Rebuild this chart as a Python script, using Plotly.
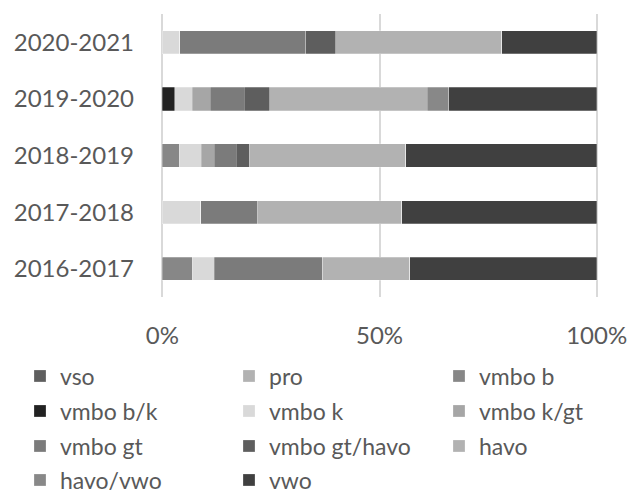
import plotly.graph_objects as go

years = ["2016-2017", "2017-2018", "2018-2019", "2019-2020", "2020-2021"]
series = ["vso", "pro", "vmbo b", "vmbo b/k", "vmbo k", "vmbo k/gt",
          "vmbo gt", "vmbo gt/havo", "havo", "havo/vwo", "vwo"]
colors = ["#5f5f5f", "#b2b2b2", "#878787", "#222222", "#d9d9d9", "#a6a6a6",
          "#7b7b7b", "#5e5e5e", "#b2b2b2", "#888888", "#404040"]

# shares (fraction), order of years as in `years`
vso = [0, 0, 0, 0, 0]
pro = [0, 0, 0, 0, 0]
vmbo_b = [0.069, 0, 0.039, 0, 0]
vmbo_bk = [0, 0, 0, 0.029, 0]
vmbo_k = [0.050, 0.089, 0.051, 0.040, 0.040]
vmbo_kgt = [0, 0, 0.030, 0.041, 0]
vmbo_gt = [0.250, 0.129, 0.050, 0.079, 0.290]
vmbo_gthavo = [0, 0, 0.030, 0.058, 0.069]
havo = [0.201, 0.333, 0.361, 0.362, 0.382]
havo_vwo = [0, 0, 0, 0.050, 0]
vwo = [0.430, 0.449, 0.440, 0.340, 0.219]

values = [vso, pro, vmbo_b, vmbo_bk, vmbo_k, vmbo_kgt,
          vmbo_gt, vmbo_gthavo, havo, havo_vwo, vwo]

font_family = "Lato, 'Open Sans', sans-serif"
W, H = 630, 495
legend_rows_y = [376, 411, 446, 480]  # row centres in px
legend_cols_x = [20, 229, 439]        # legend box left edges in px

fig = go.Figure()
legend_layout = {}
for i, (name, col, vals) in enumerate(zip(series, colors, values)):
    lid = "legend" if i == 0 else f"legend{i + 1}"
    fig.add_trace(go.Bar(
        y=years, x=vals, name=name, orientation="h",
        legend=lid,
        marker=dict(color=col, line=dict(color="rgba(255,255,255,0.5)", width=0.5)),
    ))
    legend_layout[lid] = dict(
        orientation="v",
        x=legend_cols_x[i % 3] / W, xanchor="left", xref="container",
        y=1 - legend_rows_y[i // 3] / H, yanchor="middle", yref="container",
        font=dict(size=23, color="#595959", family=font_family),
        itemclick=False, bgcolor="rgba(0,0,0,0)", borderwidth=0,
    )

fig.update_layout(
    barmode="stack",
    barnorm="fraction",
    bargap=0.59,
    width=W, height=H,
    margin=dict(l=161, r=32, t=14, b=198, autoexpand=False),
    paper_bgcolor="white", plot_bgcolor="white",
    font=dict(family=font_family, color="#595959"),
    showlegend=True,
    **legend_layout,
    xaxis=dict(
        range=[-0.003, 1.003], tickvals=[0, 0.5, 1], ticktext=["0%", "50%", "100%"],
        showgrid=True, gridcolor="#d9d9d9", gridwidth=2,
        zeroline=False, showline=False,
        tickfont=dict(size=24, color="#595959"), ticklabelstandoff=22,
    ),
    yaxis=dict(
        categoryorder="array", categoryarray=years,
        showgrid=False, zeroline=False, showline=False,
        tickfont=dict(size=24, color="#595959"), ticklabelstandoff=26,
    ),
)

fig.write_html(
    "out.html",
    config={"displayModeBar": False},
    post_script="document.body.style.margin='0';document.body.style.overflow='hidden';",
)
